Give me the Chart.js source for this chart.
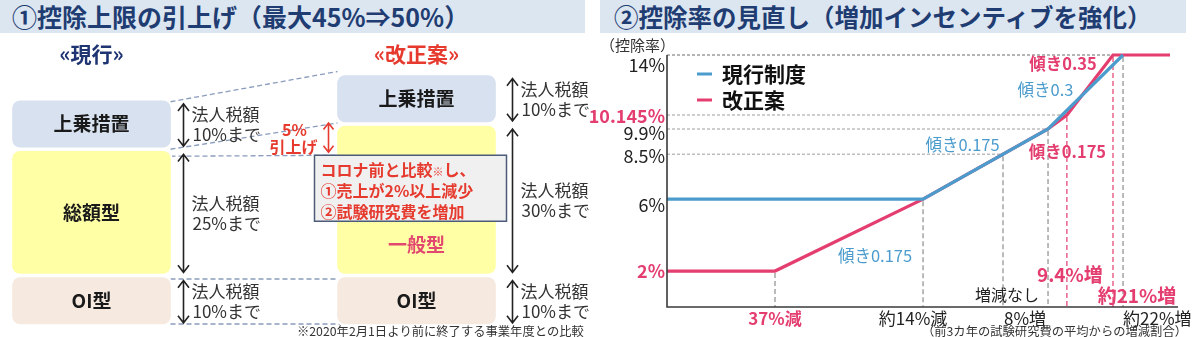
<!DOCTYPE html>
<html><head><meta charset="utf-8">
<script src="https://cdn.jsdelivr.net/npm/chart.js@4.4.1/dist/chart.umd.min.js"></script>
<style>
html,body{margin:0;padding:0;background:#fff;width:1200px;height:337px;overflow:hidden;font-family:"Noto Sans CJK JP","Noto Sans",sans-serif;}
.tbar{position:absolute;top:0;height:33px;background:#dce6f1;color:#1f3d72;font-weight:700;line-height:33px;white-space:nowrap;box-sizing:border-box;}
#t1{left:0;width:585px;padding-left:12px;font-size:25px;}
#t2{left:600px;width:586px;padding-left:14px;font-size:24.5px;}
#w1{position:absolute;left:0;top:0;width:600px;height:337px;}
#w2{position:absolute;left:585px;top:0;width:615px;height:337px;}
</style></head>
<body>
<div class="tbar" id="t1">①控除上限の引上げ（最大45%⇒50%）</div>
<div class="tbar" id="t2">②控除率の見直し（増加インセンティブを強化）</div>
<div id="w1"><canvas id="c1" width="600" height="337"></canvas></div>
<div id="w2"><canvas id="c2" width="615" height="337"></canvas></div>
<script>
// ---------- data: left (控除上限) ----------
const schemes = ['現行', '改正案'];
const schemeTitles = ['«現行»', '«改正案»'];
const oiCap = [10, 10];       // OI型 (法人税額 %)
const baseCap = [25, 30];     // 総額型 / 一般型
const topCap = [10, 10];      // 上乗措置
const baseNames = ['総額型', '一般型'];
const oiName = 'OI型';
const topName = '上乗措置';

// ---------- data: right (控除率) ----------
const currentX = [-50, -14, 8, 22];
const currentY = [6, 6, 9.9, 14];
const proposedX = [-50, -37, -14, 8, 9.4, 21, 30];
const proposedY = [2, 2, 6, 9.9, 10.145, 14, 14];
const seriesNames = ['現行制度', '改正案'];
const yTickValues = [14, 10.145, 9.9, 8.5, 6, 2];
const yTickLabels = ['14%', '10.145%', '9.9%', '8.5%', '6%', '2%'];
const xTickValues = [-37, -14, 8, 22];
const xTickLabels = ['37%減', '約14%減', '8%増', '約22%増'];
const xMarkValues = [0, 9.4, 21];
const xMarkLabels = ['増減なし', '9.4%増', '約21%増'];
const guideX = [-37, -14, 0, 8, 9.4, 21, 22];
const guideY = [2, 6, 8.5, 9.9, 10.145, 14, 14];
const slopeLabels = ['傾き0.175', '傾き0.175', '傾き0.175', '傾き0.3', '傾き0.35'];

const FONT = '"Noto Sans CJK JP","Noto Sans",sans-serif';
const fnt = (s, b) => (b ? 'bold ' : '') + s + 'px ' + FONT;
const BLUE = '#4b9ccd', PINK = '#e43d6f', RED = '#e63a2e', NAVY = '#1f3472';

function vArrow(ctx, x, y1, y2, color, h) {
  h = h || 5.5;
  ctx.save();
  ctx.strokeStyle = color; ctx.lineWidth = 1.6; ctx.setLineDash([]);
  ctx.beginPath();
  ctx.moveTo(x, y1); ctx.lineTo(x, y2);
  ctx.moveTo(x - h, y1 + h * 1.3); ctx.lineTo(x, y1); ctx.lineTo(x + h, y1 + h * 1.3);
  ctx.moveTo(x - h, y2 - h * 1.3); ctx.lineTo(x, y2); ctx.lineTo(x + h, y2 - h * 1.3);
  ctx.stroke();
  ctx.restore();
}
function txt(ctx, s, x, y, font, color, align) {
  ctx.font = font; ctx.fillStyle = color; ctx.textAlign = align || 'center'; ctx.textBaseline = 'middle';
  ctx.fillText(s, x, y);
}

// ---------- left chart ----------
const cum = (arrs, k, i) => arrs.slice(0, k).reduce((s, a) => s + a[i], 0);
const layers = [oiCap, baseCap, topCap];
const ranges = layers.map((arr, k) => arr.map((v, i) => [cum(layers, k, i), cum(layers, k, i) + v]));

const leftDecor = {
  id: 'leftDecor',
  beforeDatasetsDraw(chart) {
    const { ctx, scales: { y } } = chart;
    const b0 = chart.getDatasetMeta(0).data;
    const curR = b0[0].x + b0[0].width / 2 - 2;
    const propL = b0[1].x - b0[1].width / 2 + 2;
    const curTot = ranges[2][0][1], propTot = ranges[2][1][1];
    const curMid = ranges[1][0][1], propMid = ranges[1][1][1];
    ctx.save();
    ctx.strokeStyle = '#8a9cbc'; ctx.lineWidth = 1.3; ctx.setLineDash([5, 3]);
    const seg = (x1, y1, x2, y2) => { ctx.beginPath(); ctx.moveTo(x1, y1); ctx.lineTo(x2, y2); ctx.stroke(); };
    seg(curR, y.getPixelForValue(curTot) + 3, propL, y.getPixelForValue(propTot) - 2);
    seg(curR, y.getPixelForValue(curMid), propL, y.getPixelForValue(propMid) - 1);
    seg(curR, y.getPixelForValue(curMid) + 7, propL + 5, y.getPixelForValue(curMid) + 6);
    seg(curR, y.getPixelForValue(oiCap[0]) + 3.5, propL + 5, y.getPixelForValue(oiCap[1]) + 3.5);
    seg(curR, y.getPixelForValue(0) - 2, propL + 5, y.getPixelForValue(0) - 2);
    ctx.restore();
  },
  afterDatasetsDraw(chart) {
    const { ctx, scales: { y } } = chart;
    ctx.save();
    const metas = [0, 1, 2].map(d => chart.getDatasetMeta(d).data);
    // headers
    schemeTitles.forEach((t, i) => txt(ctx, t, metas[0][i].x, 54, fnt(21, true), i ? RED : NAVY));
    // box labels
    const names = [[oiName, oiName], baseNames, [topName, topName]];
    layers.forEach((arr, k) => arr.forEach((v, i) => {
      const r = ranges[k][i];
      const pos = (k === 1 && i === 1) ? 0.2 : 0.5;
      const yy = y.getPixelForValue(r[0] + (r[1] - r[0]) * pos);
      txt(ctx, names[k][i], metas[k][i].x, yy, fnt(19, true), (k === 1 && i === 1) ? '#e2476f' : '#1a1a1a');
    }));
    // side arrows + texts
    schemes.forEach((s, i) => {
      const bar = metas[0][i];
      const ax = bar.x + bar.width / 2 + (i ? 15 : 11);
      layers.forEach((arr, k) => {
        const r = ranges[k][i];
        const yt = y.getPixelForValue(r[1]), yb = y.getPixelForValue(r[0]);
        vArrow(ctx, ax, yt + 5, yb - 3, '#222');
        const cy = (yt + yb) / 2 + 1;
        txt(ctx, '法人税額', ax + 8, cy - 10, fnt(17), '#333', 'left');
        txt(ctx, arr[i] + '%まで', ax + 9, cy + 10, fnt(17), '#333', 'left');
      });
    });
    // 5% 引上げ
    const pb = metas[1][1];
    const propL = pb.x - pb.width / 2 + 2, propR = pb.x + pb.width / 2 - 2;
    const curMid = ranges[1][0][1], propMid = ranges[1][1][1];
    const ya = y.getPixelForValue(propMid), yb2 = y.getPixelForValue(curMid);
    vArrow(ctx, propL - 9, ya - 1, yb2 + 3, RED, 5);
    txt(ctx, (baseCap[1] - baseCap[0]) + '%', propL - 43, ya + 6, fnt(16, true), RED);
    txt(ctx, '引上げ', propL - 44, ya + 23, fnt(16, true), RED);
    // callout
    const bx = propL - 23, by = yb2 + 6, bw = propR + 11 - bx, bh = 66;
    ctx.fillStyle = '#f0f0f1'; ctx.fillRect(bx, by, bw, bh);
    ctx.strokeStyle = '#4b5b78'; ctx.lineWidth = 1.5; ctx.strokeRect(bx, by, bw, bh);
    const tx = bx + 6;
    ctx.textAlign = 'left'; ctx.textBaseline = 'middle'; ctx.fillStyle = RED;
    ctx.font = fnt(16, true); ctx.fillText('コロナ前と比較', tx, by + 15);
    let w = ctx.measureText('コロナ前と比較').width;
    ctx.font = fnt(11); ctx.fillText('※', tx + w, by + 17);
    let w2 = ctx.measureText('※').width;
    ctx.font = fnt(16, true); ctx.fillText('し、', tx + w + w2, by + 15);
    ctx.fillText('①売上が2%以上減少', tx, by + 36);
    ctx.fillText('②試験研究費を増加', tx, by + 57);
    // footnote
    txt(ctx, '※2020年2月1日より前に終了する事業年度との比較', 297, 331, fnt(12.3), '#333', 'left');
    ctx.restore();
  }
};

new Chart(document.getElementById('c1'), {
  type: 'bar',
  data: {
    labels: schemes,
    datasets: [
      { label: oiName, data: ranges[0], backgroundColor: '#f6eae0' },
      { label: '本体', data: ranges[1], backgroundColor: '#ffffa6' },
      { label: topName, data: ranges[2], backgroundColor: '#d8e1ef' }
    ]
  },
  options: {
    responsive: false, animation: false, events: [],
    layout: { padding: { left: 91.5, right: 183.5, top: 73.5, bottom: 11 } },
    datasets: { bar: { grouped: false, barThickness: 162, borderWidth: 2, borderColor: '#ffffff', borderRadius: 10, borderSkipped: false, clip: false } },
    scales: { x: { display: false, offset: false }, y: { display: false, min: 0, max: 50 } },
    plugins: { legend: { display: false }, tooltip: { enabled: false } }
  },
  plugins: [leftDecor]
});

// ---------- right chart: piecewise scale ----------
const WARP = {
  x: [[-50, 0], [-37, 0.2147], [-14, 0.509], [0, 0.668], [8, 0.7575], [9.4, 0.795], [21, 0.8867], [22, 0.9066], [30, 1]],
  y: [[0, 0], [9.9, 0.7063], [10.145, 0.7619], [14, 1]]
};
class WarpScale extends Chart.LinearScale {
  getPixelForValue(v) {
    if (v === null || v === undefined || isNaN(v)) return NaN;
    const p = WARP[this.id];
    let i = 1;
    while (i < p.length - 1 && v > p[i][0]) i++;
    const [v0, f0] = p[i - 1], [v1, f1] = p[i];
    return this.getPixelForDecimal(f0 + (v - v0) * (f1 - f0) / (v1 - v0));
  }
  getValueForPixel(px) {
    const d = this.getDecimalForPixel(px);
    const p = WARP[this.id];
    let i = 1;
    while (i < p.length - 1 && d > p[i][1]) i++;
    const [v0, f0] = p[i - 1], [v1, f1] = p[i];
    return v0 + (d - f0) * (v1 - v0) / (f1 - f0);
  }
}
WarpScale.id = 'warp';
WarpScale.defaults = Chart.LinearScale.defaults;
Chart.register(WarpScale);

const rightDecor = {
  id: 'rightDecor',
  beforeDatasetsDraw(chart) {
    const { ctx, chartArea: a, scales: { x, y } } = chart;
    ctx.save();
    guideX.forEach((gx, i) => {
      const px = x.getPixelForValue(gx), py = y.getPixelForValue(guideY[i]);
      ctx.setLineDash([3, 2]); ctx.lineWidth = 1; ctx.strokeStyle = '#9c9c9c';
      ctx.beginPath(); ctx.moveTo(a.left, py); ctx.lineTo(px, py); ctx.stroke();
      const pinkGuide = gx === 9.4 || gx === 21;
      ctx.setLineDash([5, 3]); ctx.lineWidth = 1.2; ctx.strokeStyle = pinkGuide ? PINK : '#8e8e8e';
      ctx.beginPath(); ctx.moveTo(px, py + 2); ctx.lineTo(px, a.bottom); ctx.stroke();
    });
    ctx.restore();
  },
  afterDatasetsDraw(chart) {
    const { ctx, chartArea: a, scales: { x, y } } = chart;
    ctx.save();
    // axes
    ctx.strokeStyle = '#3a3a3a'; ctx.lineWidth = 1.6; ctx.setLineDash([]);
    ctx.beginPath(); ctx.moveTo(a.left, a.top); ctx.lineTo(a.left, a.bottom); ctx.lineTo(a.right + 8, a.bottom); ctx.stroke();
    // axis title
    txt(ctx, '（控除率）', a.left - 67, a.top - 10, fnt(15), '#333', 'left');
    // y labels
    const yDy = { 14: 10, 10.145: 1, 9.9: 4, 8.5: 2, 6: 6, 2: 0 };
    yTickValues.forEach((v, i) => {
      const hl = v === 10.145 || v === 2;
      txt(ctx, yTickLabels[i], a.left - 2, y.getPixelForValue(v) + yDy[v], fnt(18, hl), hl ? PINK : '#222', 'right');
    });
    // x labels
    const xs = { '-37': [0, 'center', true], '-14': [-10, 'center', false], '8': [-23, 'center', false], '22': [0, 'left', false] };
    xTickValues.forEach((v, i) => {
      const s = xs[String(v)];
      txt(ctx, xTickLabels[i], x.getPixelForValue(v) + s[0], a.bottom + 12, fnt(17, s[2]), s[2] ? PINK : '#222', s[1]);
    });
    const ms = { '0': [4, -12, 16, false], '9.4': [3, -32, 19, true], '21': [24, -11, 19, true] };
    xMarkValues.forEach((v, i) => {
      const s = ms[String(v)];
      txt(ctx, xMarkLabels[i], x.getPixelForValue(v) + s[0], a.bottom + s[1], fnt(s[2], s[3]), s[3] ? PINK : '#222');
    });
    txt(ctx, '（前3カ年の試験研究費の平均からの増減割合）', a.right + 17, 331, fnt(12.3), '#333', 'right');
    // slope labels anchored to segments
    const mid = (X, Y, i) => [(x.getPixelForValue(X[i]) + x.getPixelForValue(X[i + 1])) / 2, (y.getPixelForValue(Y[i]) + y.getPixelForValue(Y[i + 1])) / 2];
    const sl = [
      [proposedX, proposedY, 1, 26, 21, BLUE, false],
      [currentX, currentY, 1, -23, -19, BLUE, false],
      [proposedX, proposedY, 3, 10, 30, PINK, true],
      [currentX, currentY, 2, -40, -2, BLUE, false],
      [proposedX, proposedY, 4, -27, -21, PINK, true]
    ];
    sl.forEach((s, i) => {
      const m = mid(s[0], s[1], s[2]);
      txt(ctx, slopeLabels[i], m[0] + s[3], m[1] + s[4], fnt(s[6] ? 16.5 : 16.5, s[6]), s[5]);
    });
    // legend
    chart.data.datasets.forEach((ds, i) => {
      const ly = a.top + 19 + i * 26;
      ctx.strokeStyle = ds.borderColor; ctx.lineWidth = 3;
      ctx.beginPath(); ctx.moveTo(a.left + 30, ly); ctx.lineTo(a.left + 45, ly); ctx.stroke();
      txt(ctx, ds.label, a.left + 55, ly, fnt(21, true), '#111', 'left');
    });
    ctx.restore();
  }
};

const pts = (X, Y) => X.map((v, i) => ({ x: v, y: Y[i] }));
new Chart(document.getElementById('c2'), {
  type: 'line',
  data: {
    datasets: [
      { label: seriesNames[0], data: pts(currentX, currentY), borderColor: BLUE },
      { label: seriesNames[1], data: pts(proposedX, proposedY), borderColor: PINK }
    ]
  },
  options: {
    responsive: false, animation: false, events: [],
    layout: { padding: { left: 82, right: 30, top: 55, bottom: 30 } },
    datasets: { line: { borderWidth: 3.2, pointRadius: 0, tension: 0, fill: false, clip: 6 } },
    scales: {
      x: { type: 'warp', display: false, min: -50, max: 30 },
      y: { type: 'warp', display: false, min: 0, max: 14 }
    },
    plugins: { legend: { display: false }, tooltip: { enabled: false } }
  },
  plugins: [rightDecor]
});
</script>
</body></html>
